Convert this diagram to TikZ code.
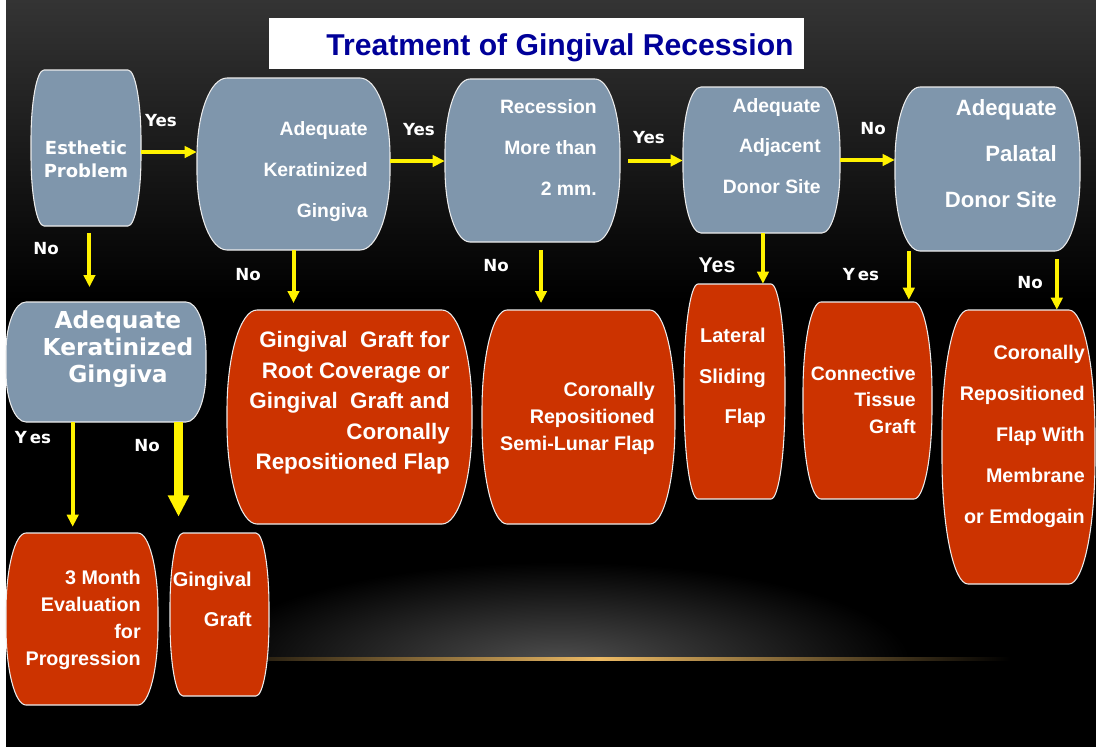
\documentclass[tikz,border=0pt]{standalone}
\usepackage{fontspec}
\setmainfont{Liberation Sans}
\newfontfamily\dvs{DejaVu Sans}
\usetikzlibrary{arrows.meta}
\definecolor{bluegray}{RGB}{127,150,172}
\definecolor{brick}{RGB}{204,51,0}
\definecolor{titleblue}{RGB}{0,0,153}
\definecolor{goldline}{RGB}{235,185,100}
\definecolor{topgray}{RGB}{52,52,52}
\definecolor{glowgray}{RGB}{78,78,78}
\newcommand\flowbox[8]{%
  \path[#8] ({#2+#6},#3) -- ({#4-#6},#3)
    .. controls ({#4-0.448*#6},#3) and (#4,{#3+0.448*#7}) .. (#4,{#3+#7})
    -- (#4,{#5-#7})
    .. controls (#4,{#5-0.448*#7}) and ({#4-0.448*#6},#5) .. ({#4-#6},#5)
    -- ({#2+#6},#5)
    .. controls ({#2+0.448*#6},#5) and (#2,{#5-0.448*#7}) .. (#2,{#5-#7})
    -- (#2,{#3+#7})
    .. controls (#2,{#3+0.448*#7}) and ({#2+0.448*#6},#3) .. ({#2+#6},#3) -- cycle;
  \node[inner sep=0pt, minimum width={(#4-#2)*0.75pt}, minimum height={(#5-#3)*0.75pt}] (#1) at ({(#2+#4)/2},{(#3+#5)/2}) {};
}
\tikzset{
  qbox/.style={fill=bluegray, draw=white!85!gray, line width=0.8pt},
  abox/.style={fill=brick, draw=white!85!gray, line width=0.8pt},
  txt/.style={text=white, inner sep=0pt, font=\bfseries},
  lbl/.style={text=white, inner sep=0pt, font=\dvs\bfseries\fontsize{12.5pt}{14pt}\selectfont},
  yarr/.style={draw=yellow, line width=3pt, -{Triangle[width=8.5pt,length=9pt]}, yellow},
  yarrthick/.style={draw=yellow, line width=6.5pt, -{Triangle[width=15pt,length=16pt]}, yellow},
}
\begin{document}
\begin{tikzpicture}[x=0.75pt,y=-0.75pt]
\useasboundingbox (0,0) rectangle (1096,747);
% background
\fill[black] (0,0) rectangle (1096,747);
\shade[top color=topgray, bottom color=black] (0,0) rectangle (1096,300);
\begin{scope}
  \clip (100,540) rectangle (1050,659);
  \shade[inner color=glowgray, outer color=black] (560,662) ellipse [x radius=350, y radius=100];
\end{scope}
\shade[left color=black, right color=black, middle color=goldline] (190,657.5) rectangle (1010,660.5);
\fill[white] (0,0) rectangle (6,747);
% title
\node[fill=white, inner sep=0pt, minimum width={535*0.75pt}, minimum height={51*0.75pt}] (titlebox) at (536.5,43.5) {};
\node[inner sep=0pt, text=titleblue, font=\bfseries\fontsize{22.6pt}{26pt}\selectfont] (title) at (560,48) {Treatment of Gingival Recession};
% boxes
\flowbox{esth}{31}{70}{141}{226}{13}{70}{qbox}
\flowbox{akt}{197}{78}{390}{250}{30}{78}{qbox}
\flowbox{rec}{445}{79}{620}{242}{25}{73}{qbox}
\flowbox{adj}{683}{87}{840}{233}{18}{64}{qbox}
\flowbox{pal}{895}{87}{1080}{251}{25}{74}{qbox}
\flowbox{akg}{6}{302}{206}{422}{20}{50}{qbox}
\flowbox{gg}{227}{310}{472}{524}{30}{100}{abox}
\flowbox{crsl}{482}{310}{675}{524}{25}{100}{abox}
\flowbox{lsf}{684}{284}{785}{499}{14}{100}{abox}
\flowbox{ctg}{803}{302}{932}{499}{18}{90}{abox}
\flowbox{crfm}{942}{310}{1095}{584}{26}{125}{abox}
\flowbox{tme}{6}{533}{158}{705}{20}{78}{abox}
\flowbox{ggr}{170}{533}{269}{696}{13}{74}{abox}
% texts
\node[txt, font=\dvs\bfseries\fontsize{13.5pt}{17.25pt}\selectfont, align=center] (t-esth) at (86,159.5) {Esthetic\\Problem};
\node[txt, font=\bfseries\fontsize{14.5pt}{30.75pt}\selectfont, align=right, anchor=east] (t-akt) at (368,172) {Adequate\\Keratinized\\Gingiva};
\node[txt, font=\bfseries\fontsize{14.5pt}{30.75pt}\selectfont, align=right, anchor=east] (t-rec) at (597,147) {Recession\\More than\\2 mm.};
\node[txt, font=\bfseries\fontsize{14.5pt}{30.4pt}\selectfont, align=right, anchor=east] (t-adj) at (821,146) {Adequate\hspace{5pt}\\Adjacent\\Donor Site};
\node[txt, font=\bfseries\fontsize{16.6pt}{34.5pt}\selectfont, align=right, anchor=east] (t-pal) at (1057,154) {Adequate\\Palatal\\Donor Site};
\node[txt, font=\dvs\bfseries\fontsize{17.5pt}{20.25pt}\selectfont, align=center] (t-akg) at (118,349) {Adequate\\Keratinized\\Gingiva};
\node[txt, font=\bfseries\fontsize{16.8pt}{22.9pt}\selectfont, align=right, anchor=east] (t-gg) at (450,403) {Gingival\ \ Graft for\\Root Coverage or\\Gingival\ \ Graft and\\Coronally\hspace{6pt}\\Repositioned Flap};
\node[txt, font=\bfseries\fontsize{14.8pt}{20.25pt}\selectfont, align=right, anchor=east] (t-crsl) at (655,418) {Coronally\hspace{5pt}\\Repositioned\\Semi-Lunar Flap};
\node[txt, font=\bfseries\fontsize{15pt}{30.4pt}\selectfont, align=right, anchor=east] (t-lsf) at (766,378) {Lateral\hspace{5pt}\\Sliding\\Flap};
\node[txt, font=\bfseries\fontsize{14.6pt}{19.9pt}\selectfont, align=right, anchor=east] (t-ctg) at (916,400) {Connective\hspace{6pt}\\Tissue\\Graft};
\node[txt, font=\bfseries\fontsize{14.8pt}{30.75pt}\selectfont, align=right, anchor=east] (t-crfm) at (1085,436) {Coronally\hspace{4pt}\\Repositioned\\Flap With\\Membrane\hspace{4pt}\\or Emdogain};
\node[txt, font=\bfseries\fontsize{14.8pt}{20.25pt}\selectfont, align=right, anchor=east] (t-tme) at (141,619.5) {3 Month\hspace{4pt}\\Evaluation\\for\hspace{4pt}\\Progression};
\node[txt, font=\bfseries\fontsize{15pt}{30pt}\selectfont, align=right, anchor=east] (t-ggr) at (252,599) {Gingival\\Graft};
% arrows
\draw[yarr] ([yshift=-3pt]esth.east) -- ([yshift=-3pt]esth.east -| akt.west);
\draw[yarr] ([yshift=2.25pt]akt.east) -- ([yshift=2.25pt]akt.east -| rec.west);
\draw[yarr, shorten <=6pt] (rec.east) -- (rec.east -| adj.west);
\draw[yarr] (adj.east) -- (adj.east -| pal.west);
\draw[yarr, shorten <=5pt, shorten >=11pt] ([xshift=2.6pt]esth.south) -- ([xshift=2.6pt]esth.south |- akg.north);
\draw[yarr, shorten >=5pt] (akt.south) -- (akt.south |- gg.north);
\draw[yarr, shorten <=6pt, shorten >=5pt] ([xshift=6.4pt]rec.south) -- ([xshift=6.4pt]rec.south |- crsl.north);
\draw[yarr] ([xshift=1.1pt]adj.south) -- ([xshift=1.1pt]adj.south |- lsf.north);
\draw[yarr, shorten >=1.5pt] ([xshift=-59pt]pal.south) -- ([xshift=-59pt]pal.south |- ctg.north);
\draw[yarr, shorten <=6pt] ([xshift=52pt]pal.south) -- ([xshift=52pt]pal.south |- crfm.north);
\draw[yarr, shorten >=4.5pt] ([xshift=-25pt]akg.south) -- ([xshift=-25pt]akg.south |- tme.north);
\draw[yarrthick, shorten >=12pt] ([xshift=54.4pt]akg.south) -- ([xshift=54.4pt]akg.south |- ggr.north);
% labels
\node[lbl] (l1) at (161,121) {Yes};
\node[lbl] (l2) at (46,249) {No};
\node[lbl] (l3) at (419,130) {Yes};
\node[lbl] (l4) at (248,275) {No};
\node[lbl] (l5) at (649,138) {Yes};
\node[lbl] (l6) at (496,266) {No};
\node[lbl] (l7) at (873,129) {No};
\node[txt, font=\bfseries\fontsize{16pt}{18pt}\selectfont] (l8) at (717,265) {Yes};
\node[lbl] (l9) at (861,275) {Y\,es};
\node[lbl] (l10) at (1030,283) {No};
\node[lbl] (l11) at (33,438) {Y\,es};
\node[lbl] (l12) at (147,446) {No};
\end{tikzpicture}
\end{document}
